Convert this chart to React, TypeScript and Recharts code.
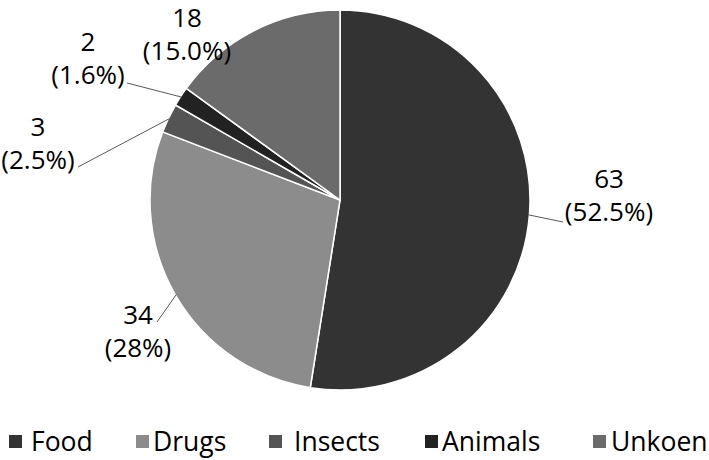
import React from 'react';
import { PieChart, Pie, Cell, Legend } from 'recharts';

const categories = ['Food', 'Drugs', 'Insects', 'Animals', 'Unkoen'];
const counts = [63, 34, 3, 2, 18];
const percentLabels = ['(52.5%)', '(28%)', '(2.5%)', '(1.6%)', '(15.0%)'];
const colors = ['#333333', '#8c8c8c', '#545454', '#222222', '#6b6b6b'];

// where each label text sits and where its leader line ends
const labelLayout = [
    { x: 609, y: 178, lx: 563, ly: 222 },
    { x: 138, y: 314, lx: 157, ly: 322 },
    { x: 38, y: 126, lx: 78, ly: 167 },
    { x: 88, y: 41, lx: 127, ly: 83 },
    { x: 187, y: 17, lx: null, ly: null },
];

const legendLeft = [9, 136, 269, 425, 593];
const legendGap = [9, 4, 12, 4, 5];

const data = categories.map((name, i) => ({ name, value: counts[i] }));

const FONT = '"Open Sans", sans-serif';
const RAD = Math.PI / 180;

function renderLabel(props: any) {
    const { cx, cy, midAngle, outerRadius, index } = props;
    const pos = labelLayout[index];
    const sx = cx + (outerRadius - 1) * Math.cos(-midAngle * RAD);
    const sy = cy + (outerRadius - 1) * Math.sin(-midAngle * RAD);
    return (
        <g key={`lbl-${index}`}>
            {pos.lx !== null && (
                <line x1={sx} y1={sy} x2={pos.lx} y2={pos.ly} stroke="#595959" strokeWidth={1} />
            )}
            <text x={pos.x} y={pos.y} textAnchor="middle" dominantBaseline="central"
                fontFamily={FONT} fontSize={26} fill="#000">
                {counts[index]}
            </text>
            <text x={pos.x} y={pos.y + 33} textAnchor="middle" dominantBaseline="central"
                fontFamily={FONT} fontSize={26} fill="#000">
                {percentLabels[index]}
            </text>
        </g>
    );
}

function renderLegend() {
    return (
        <div style={{ position: 'relative', width: 709, height: 40, fontFamily: FONT, fontSize: 26.5 }}>
            {categories.map((name, i) => (
                <div key={name} style={{
                    position: 'absolute', left: legendLeft[i], top: 0, height: 40,
                    display: 'flex', alignItems: 'center', whiteSpace: 'nowrap',
                }}>
                    <span style={{ width: 13, height: 13, background: colors[i], marginRight: legendGap[i], display: 'inline-block' }} />
                    <span style={{ color: '#000', lineHeight: '40px' }}>{name}</span>
                </div>
            ))}
        </div>
    );
}

export default function App() {
    return (
        <div style={{ position: 'absolute', left: 0, top: 0, width: 709, height: 460, background: '#fff' }}>
            <PieChart width={709} height={460} margin={{ top: 0, right: 0, bottom: 0, left: 0 }}>
                <Pie
                    data={data}
                    dataKey="value"
                    nameKey="name"
                    cx={340}
                    cy={200}
                    outerRadius={190}
                    startAngle={90}
                    endAngle={-270}
                    stroke="#ffffff"
                    strokeWidth={1.5}
                    label={renderLabel}
                    labelLine={false}
                    isAnimationActive={false}
                >
                    {data.map((d, i) => (
                        <Cell key={d.name} fill={colors[i]} />
                    ))}
                </Pie>
                <Legend
                    content={renderLegend}
                    verticalAlign="bottom"
                    wrapperStyle={{ left: 0, bottom: 0, top: 421, width: 709 }}
                />
            </PieChart>
        </div>
    );
}
